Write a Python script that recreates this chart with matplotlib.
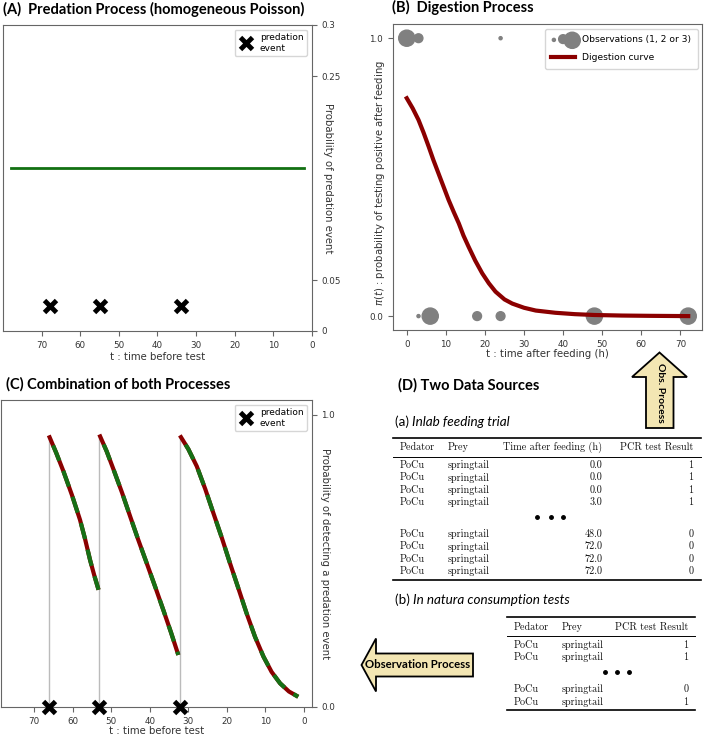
import numpy as np
import matplotlib
matplotlib.use('Agg')
import matplotlib.pyplot as plt
from matplotlib.patches import Polygon
from matplotlib.legend_handler import HandlerPathCollection

# (A) predation process
a_events = [68, 55, 34]
a_rate_t = [78, 2]
a_rate = [0.16, 0.16]

# (B) digestion process
obs_t = [0, 3, 24, 3, 6, 18, 24, 48, 72]
obs_y = [1, 1, 1, 0, 0, 0, 0, 0, 0]
obs_n = [3, 2, 1, 1, 3, 2, 2, 3, 3]
dig_t = [0, 1.5, 3, 4.3, 5.6, 6.8, 8.1, 9.4, 10.7, 12, 13.3, 14.5, 15.8, 17.5,
         19.3, 21, 22.7, 25, 27, 30, 33, 38, 43, 48, 55, 62, 72]
dig_p = [0.784, 0.748, 0.706, 0.66, 0.61, 0.562, 0.514, 0.466, 0.418, 0.375,
         0.334, 0.29, 0.25, 0.2, 0.154, 0.118, 0.088, 0.06, 0.045, 0.03, 0.02,
         0.012, 0.007, 0.004, 0.002, 0.001, 0.0]

# (C) combination
c_events = [66.2, 53.1, 32.2]
c_seg_t = [
    [66.2, 64.3, 62.4, 60.2, 58.1, 56.8, 55.5, 54.4, 53.3],
    [53.1, 51.2, 49.4, 47.2, 45.1, 43.0, 40.8, 38.6, 36.5, 34.5, 32.6],
    [32.2, 30.0, 27.8, 25.6, 23.5, 21.3, 19.2, 17.0, 14.9, 12.7, 10.5, 8.4, 6.2, 3.9, 1.5],
]
c_seg_p = [
    [0.929, 0.87, 0.806, 0.725, 0.64, 0.575, 0.503, 0.45, 0.401],
    [0.932, 0.875, 0.812, 0.733, 0.652, 0.572, 0.492, 0.411, 0.332, 0.255, 0.178],
    [0.929, 0.882, 0.823, 0.745, 0.663, 0.578, 0.492, 0.405, 0.321, 0.24, 0.172,
     0.12, 0.081, 0.053, 0.035],
]

# (D) tables
tab_a_header = ["Pedator", "Prey", "Time after feeding (h)", "PCR test Result"]
tab_a_top = [["PoCu", "springtail", "0.0", "1"],
             ["PoCu", "springtail", "0.0", "1"],
             ["PoCu", "springtail", "0.0", "1"],
             ["PoCu", "springtail", "3.0", "1"]]
tab_a_bottom = [["PoCu", "springtail", "48.0", "0"],
                ["PoCu", "springtail", "72.0", "0"],
                ["PoCu", "springtail", "72.0", "0"],
                ["PoCu", "springtail", "72.0", "0"]]
tab_b_header = ["Pedator", "Prey", "PCR test Result"]
tab_b_top = [["PoCu", "springtail", "1"],
             ["PoCu", "springtail", "1"]]
tab_b_bottom = [["PoCu", "springtail", "0"],
                ["PoCu", "springtail", "1"]]

W, H = 709, 736
fig = plt.figure(figsize=(W / 100, H / 100), dpi=100)
bg = fig.add_axes([0, 0, 1, 1])
bg.set_xlim(0, W)
bg.set_ylim(H, 0)
bg.axis('off')

def px_axes(l, t, r, b):
    return fig.add_axes([l / W, 1 - b / H, (r - l) / W, (b - t) / H])

def style(ax):
    for s in ax.spines.values():
        s.set_color('#666666')
    ax.tick_params(labelsize=6.3, colors='#666666', labelcolor='#333333', length=3.5)

tfont = 'Lato'
lbl = dict(fontsize=7.3, color='#333333')

# ---- panel A
axA = px_axes(3.3, 25, 311.7, 331)
style(axA)
axA.plot(a_rate_t, a_rate, color='#127012', lw=2)
axA.plot(a_events, [0.025] * len(a_events), 'x', color='k', ms=9, mew=3.5,
         ls='none', label='predation\nevent')
axA.set_xlim(80, 0)
axA.set_ylim(0, 0.3)
axA.set_xticks(range(0, 80, 10))
axA.set_yticks([0, 0.05, 0.25, 0.3])
axA.set_yticklabels(['0', '0.05', '0.25', '0.3'])
axA.yaxis.tick_right()
axA.yaxis.set_label_position('right')
axA.set_ylabel('Probability of predation event', rotation=270, va='center', ha='center', **lbl)
axA.yaxis.set_label_coords(1.053, 0.5)
axA.set_xlabel('t : time before test', labelpad=2, **lbl)
axA.legend(loc='upper right', fontsize=6.5, handlelength=1.6)

# ---- panel B
axB = px_axes(392.7, 24.3, 702.3, 330)
style(axB)
sc = axB.scatter(obs_t, obs_y, s=5 * np.array(obs_n) ** 3, color='#808080',
                 zorder=2, label='Observations (1, 2 or 3)')
axB.plot(dig_t, dig_p, color='#8b0000', lw=3, zorder=3, label='Digestion curve')
axB.set_xlim(-3.6, 75.6)
axB.set_ylim(-0.05, 1.05)
axB.set_xticks(range(0, 80, 10))
axB.set_yticks([0, 1])
axB.set_yticklabels(['0.0', '1.0'])
axB.set_xlabel('t : time after feeding (h)', labelpad=0, **lbl)
axB.set_ylabel(r'$\pi(t)$ : probability of testing positive after feeding',
               va='center', ha='center', **lbl)
axB.yaxis.set_label_coords(-0.041, 0.48)
axB.legend(loc='upper right', fontsize=6.6, scatterpoints=3, handlelength=2.6,
           labelspacing=1.0, borderpad=0.7,
           handler_map={sc: HandlerPathCollection(sizes=[5, 40, 135])})

# ---- panel C
axC = px_axes(1, 400, 311.7, 707)
style(axC)
for t, p in zip(c_seg_t, c_seg_p):
    axC.plot(t, p, color='#8b0000', lw=3, solid_capstyle='butt')
    axC.plot(t, p, color='#167016', lw=3, ls=(4.0, (4.0, 2.6)), dash_capstyle='butt')
axC.vlines(c_events, 0, [p[0] for p in c_seg_p], color='#bbbbbb', lw=1, zorder=1)
axC.plot(c_events, [0] * len(c_events), 'x', color='k', ms=9, mew=3.5, ls='none',
         clip_on=False, zorder=5, label='predation\nevent')
axC.set_xlim(78.6, -2)
axC.set_ylim(0, 1.05)
axC.set_xticks(range(0, 80, 10))
axC.set_yticks([0, 1])
axC.set_yticklabels(['0.0', '1.0'])
axC.yaxis.tick_right()
axC.yaxis.set_label_position('right')
axC.set_ylabel('Probability of detecting a predation event', rotation=270,
               va='center', ha='center', **lbl)
axC.yaxis.set_label_coords(1.043, 0.5)
axC.set_xlabel('t : time before test', labelpad=0, **lbl)
axC.legend(loc='upper right', fontsize=6.5, handlelength=1.6)

# ---- titles
tkw = dict(fontfamily=tfont, fontweight='bold', fontsize=10.5, va='center', ha='left')
bg.text(3, 9, '(A)  Predation Process (homogeneous Poisson)', **tkw)
bg.text(392, 7, '(B)  Digestion Process', **tkw)
bg.text(6, 384, '(C) Combination of both Processes', **tkw)
bg.text(398, 385, '(D) Two Data Sources', **tkw)

# ---- panel D captions
ckw = dict(fontfamily=tfont, fontsize=9.7, va='center', ha='left')
ca = bg.text(395, 422, '(a) ', **ckw)
bg.annotate('Inlab feeding trial', xy=(1, 0.5), xycoords=ca, va='center',
            ha='left', fontfamily=tfont, fontsize=9.7, style='italic')
cb = bg.text(395, 600, '(b) ', **ckw)
bg.annotate('In natura consumption tests', xy=(1, 0.5), xycoords=cb, va='center',
            ha='left', fontfamily=tfont, fontsize=9.7, style='italic')

# ---- tables
fk = dict(fontfamily='cmr10', fontsize=7.3, va='center', color='#111111')

def draw_table(x0, x1, cols, aligns, header, top, bottom, y_top, row_h, dots_x):
    bg.plot([x0, x1], [y_top, y_top], color='k', lw=1.2)
    y = y_top + 9.5
    for c, a, txt in zip(cols, aligns, header):
        bg.text(c, y, txt, ha=a, **fk)
    y_rule = y + 9.5
    bg.plot([x0, x1], [y_rule, y_rule], color='k', lw=0.7)
    y = y_rule + 8.5
    for row in top:
        for c, a, txt in zip(cols, aligns, row):
            bg.text(c, y, txt, ha=a, **fk)
        y += row_h
    y += 2
    for dx in dots_x:
        bg.plot(dx, y, 'o', color='k', ms=2.5)
    y += row_h + 5
    for row in bottom:
        for c, a, txt in zip(cols, aligns, row):
            bg.text(c, y, txt, ha=a, **fk)
        y += row_h
    y_bot = y - row_h + 8.5
    bg.plot([x0, x1], [y_bot, y_bot], color='k', lw=1.2)

draw_table(393, 700.7, [400, 447.7, 602.3, 693.3], ['left', 'left', 'right', 'right'],
           tab_a_header, tab_a_top, tab_a_bottom, 437.7, 12.4, [536.7, 550.5, 563.3])
draw_table(506.7, 695, [514, 561.7, 688.3], ['left', 'left', 'right'],
           tab_b_header, tab_b_top, tab_b_bottom, 617.3, 12.5, [605, 617, 629])

# ---- arrows
fill = '#f3e6b3'
up = Polygon([(646, 428), (646, 377), (632, 377), (659.5, 352.5), (687, 377),
              (673.5, 377), (673.5, 428)], closed=True, fc=fill, ec='k', lw=1.3)
bg.add_patch(up)
bg.text(660, 393, 'Obs. Process', rotation=270, ha='center', va='center',
        fontfamily=tfont, fontweight='bold', fontsize=7.5)
left = Polygon([(473, 653.5), (376, 653.5), (376, 638.5), (361.5, 665), (376, 691.5),
                (376, 676.5), (473, 676.5)], closed=True, fc=fill, ec='k', lw=1.3)
bg.add_patch(left)
bg.text(418, 665, 'Observation Process', ha='center', va='center',
        fontfamily=tfont, fontweight='bold', fontsize=8.2)

fig.savefig('out.png', dpi=100)
